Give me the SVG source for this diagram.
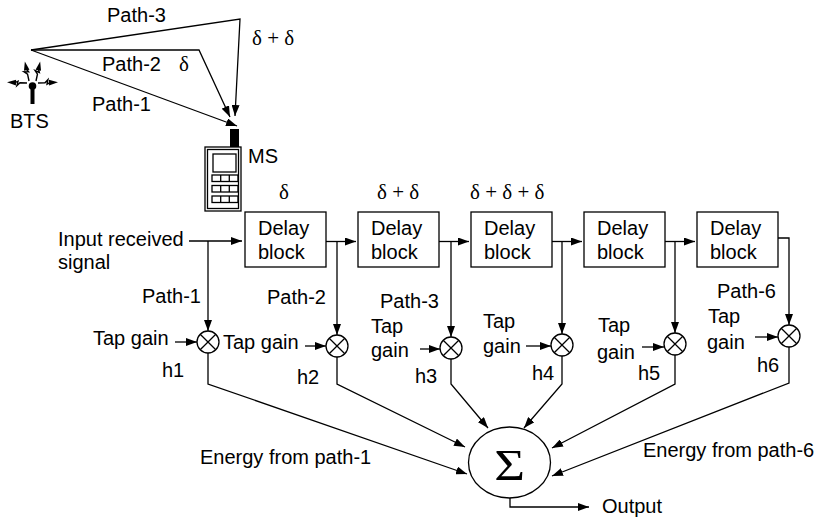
<svg xmlns="http://www.w3.org/2000/svg" width="829" height="521" viewBox="0 0 829 521">
  <style>
    .ln { fill: none; stroke: #000; stroke-width: 1.3; }
    .arr { fill: none; stroke: #000; stroke-width: 1.3; marker-end: url(#ah); }
    .box { fill: #fff; stroke: #000; stroke-width: 1.3; }
    .t { font-family: "Liberation Sans", Arial, sans-serif; font-size: 20px; fill: #000; }
    .g { font-family: "Liberation Serif", "Times New Roman", serif; font-size: 21px; fill: #000; }
  </style>
  <defs>
    <marker id="ah" markerUnits="userSpaceOnUse" markerWidth="11" markerHeight="8" refX="11" refY="4" orient="auto">
      <path d="M0,0 L11,4 L0,8 Z" fill="#000"/>
    </marker>
    <!-- radio wave bolt pointing along +x -->
    <g id="bolt">
      <polyline points="0,0 7,0 10,-3 9,1.5 12,0" fill="none" stroke="#000" stroke-width="1.4"/>
      <path d="M11,-2.8 L20,0 L11,2.8 Z" fill="#000"/>
    </g>
    <!-- multiplier symbol -->
    <g id="mul">
      <circle r="11" fill="#fff" stroke="#000" stroke-width="1.3"/>
      <path d="M-7.8,-7.8 L7.8,7.8 M-7.8,7.8 L7.8,-7.8" stroke="#000" stroke-width="1.3"/>
    </g>
  </defs>

  <!-- base station -->
  <g id="bts">
    <line x1="32.5" y1="86" x2="32.5" y2="104" stroke="#000" stroke-width="4"/>
    <circle cx="32.5" cy="86" r="3.8" fill="#000"/>
    <use href="#bolt" transform="translate(29,81) rotate(-102)"/>
    <use href="#bolt" transform="translate(36,81) rotate(-78)"/>
    <use href="#bolt" transform="translate(27,83) rotate(182)"/>
    <use href="#bolt" transform="translate(38,83) rotate(-2)"/>
    <text class="t" x="10" y="128">BTS</text>
  </g>

  <!-- mobile station -->
  <g id="ms">
    <rect x="230" y="129" width="9" height="19" fill="#000"/>
    <rect class="box" x="205" y="147" width="36" height="64"/>
    <rect class="ln" x="207.5" y="149.5" width="31" height="59"/>
    <rect class="ln" x="213" y="154" width="23" height="18"/>
    <g class="ln">
      <rect x="212" y="175" width="26" height="6.5"/>
      <rect x="212" y="185.5" width="26" height="6.5"/>
      <rect x="212" y="196" width="26" height="6.5"/>
      <path d="M220.7,175 V181.5 M229.3,175 V181.5 M220.7,185.5 V192 M229.3,185.5 V192 M220.7,196 V202.5 M229.3,196 V202.5"/>
    </g>
    <text class="t" x="248" y="163">MS</text>
  </g>

  <!-- radio paths -->
  <g id="radio-paths">
    <polyline class="arr" points="31,50 240,19 235,116"/>
    <polyline class="arr" points="31,50 199,50 230,117"/>
    <line class="arr" x1="31" y1="50" x2="237" y2="126"/>
    <text class="t" x="107" y="22">Path-3</text>
    <text class="g" x="252" y="45">δ + δ</text>
    <text class="t" x="102" y="71">Path-2</text>
    <text class="g" x="179" y="71">δ</text>
    <text class="t" x="92" y="111">Path-1</text>
  </g>

  <!-- delay line -->
  <g id="delay1">
    <rect class="box" x="245" y="212" width="81" height="55"/>
    <text class="t" x="258" y="235">Delay</text>
    <text class="t" x="258" y="259">block</text>
    <text class="g" x="279" y="199">δ</text>
  </g>
  <g id="delay2">
    <rect class="box" x="358" y="212" width="81" height="55"/>
    <text class="t" x="371" y="235">Delay</text>
    <text class="t" x="371" y="259">block</text>
    <text class="g" x="377" y="199">δ + δ</text>
  </g>
  <g id="delay3">
    <rect class="box" x="471" y="212" width="81" height="55"/>
    <text class="t" x="484" y="235">Delay</text>
    <text class="t" x="484" y="259">block</text>
    <text class="g" x="470" y="199">δ + δ + δ</text>
  </g>
  <g id="delay4">
    <rect class="box" x="584" y="212" width="81" height="55"/>
    <text class="t" x="597" y="235">Delay</text>
    <text class="t" x="597" y="259">block</text>
  </g>
  <g id="delay5">
    <rect class="box" x="697" y="212" width="81" height="55"/>
    <text class="t" x="710" y="235">Delay</text>
    <text class="t" x="710" y="259">block</text>
  </g>

  <g id="input">
    <text class="t" x="58" y="246">Input received</text>
    <text class="t" x="58" y="269">signal</text>
  </g>

  <!-- tap multipliers -->
  <g id="tap1">
    <use href="#mul" x="208" y="342"/>
    <text class="t" x="142" y="303">Path-1</text>
    <text class="t" x="93" y="345">Tap gain</text>
    <text class="t" x="162" y="377">h1</text>
  </g>
  <g id="tap2">
    <use href="#mul" x="337" y="346"/>
    <text class="t" x="267" y="304">Path-2</text>
    <text class="t" x="223" y="349">Tap gain</text>
    <text class="t" x="297" y="384">h2</text>
  </g>
  <g id="tap3">
    <use href="#mul" x="451" y="348"/>
    <text class="t" x="380" y="308">Path-3</text>
    <text class="t" x="371" y="333">Tap</text>
    <text class="t" x="371" y="357">gain</text>
    <text class="t" x="415" y="383">h3</text>
  </g>
  <g id="tap4">
    <use href="#mul" x="562" y="345"/>
    <text class="t" x="483" y="328">Tap</text>
    <text class="t" x="483" y="353">gain</text>
    <text class="t" x="532" y="380">h4</text>
  </g>
  <g id="tap5">
    <use href="#mul" x="675" y="344"/>
    <text class="t" x="598" y="332">Tap</text>
    <text class="t" x="597" y="359">gain</text>
    <text class="t" x="638" y="380">h5</text>
  </g>
  <g id="tap6">
    <use href="#mul" x="789" y="336"/>
    <text class="t" x="717" y="298">Path-6</text>
    <text class="t" x="708" y="323">Tap</text>
    <text class="t" x="707" y="349">gain</text>
    <text class="t" x="757" y="372">h6</text>
  </g>

  <!-- summer -->
  <g id="sum">
    <ellipse cx="509.5" cy="462.5" rx="41" ry="35.5" fill="#fff" stroke="#000" stroke-width="1.3"/>
    <text transform="translate(509.5,480) scale(1.2,1)" text-anchor="middle" font-family="Liberation Serif, Times New Roman, serif" font-size="44" fill="#000">Σ</text>
    <text class="t" x="200" y="464">Energy from path-1</text>
    <text class="t" x="643" y="457">Energy from path-6</text>
  </g>
  <g id="output">
    <text class="t" x="602" y="513">Output</text>
  </g>

  <!-- connectors -->
  <g id="connectors">
    <!-- delay chain -->
    <line class="arr" x1="189" y1="241" x2="242" y2="241"/>
    <line class="arr" x1="326" y1="241.5" x2="356" y2="241.5"/>
    <line class="arr" x1="439" y1="241.5" x2="469" y2="241.5"/>
    <line class="arr" x1="552" y1="241.5" x2="582" y2="241.5"/>
    <line class="arr" x1="665" y1="241.5" x2="695" y2="241.5"/>
    <!-- taps into multipliers -->
    <line class="arr" x1="208" y1="241" x2="208" y2="331"/>
    <line class="arr" x1="337" y1="241.5" x2="337" y2="335"/>
    <line class="arr" x1="451" y1="241.5" x2="451" y2="337"/>
    <line class="arr" x1="562" y1="241.5" x2="562" y2="334"/>
    <line class="arr" x1="675" y1="241.5" x2="675" y2="333"/>
    <polyline class="arr" points="778,238 789,238 789,325"/>
    <!-- tap gain inputs -->
    <line class="arr" x1="175" y1="342" x2="197" y2="342"/>
    <line class="arr" x1="305" y1="346" x2="326" y2="346"/>
    <line class="arr" x1="420" y1="349" x2="440" y2="349"/>
    <line class="arr" x1="526" y1="346" x2="551" y2="346"/>
    <line class="arr" x1="642" y1="347" x2="664" y2="347"/>
    <line class="arr" x1="755" y1="337" x2="778" y2="337"/>
    <!-- weighted paths into the summer -->
    <polyline class="arr" points="208,353 208,384 467,474"/>
    <polyline class="arr" points="337,357 337,384 465,447"/>
    <polyline class="arr" points="451,359 451,384 488,428"/>
    <polyline class="arr" points="562,356 562,384 524,428"/>
    <polyline class="arr" points="675,355 675,384 552,448"/>
    <polyline class="arr" points="789,347 789,383 552,476"/>
    <!-- output -->
    <polyline class="arr" points="510,498 510,507 589,507"/>
  </g>
</svg>
